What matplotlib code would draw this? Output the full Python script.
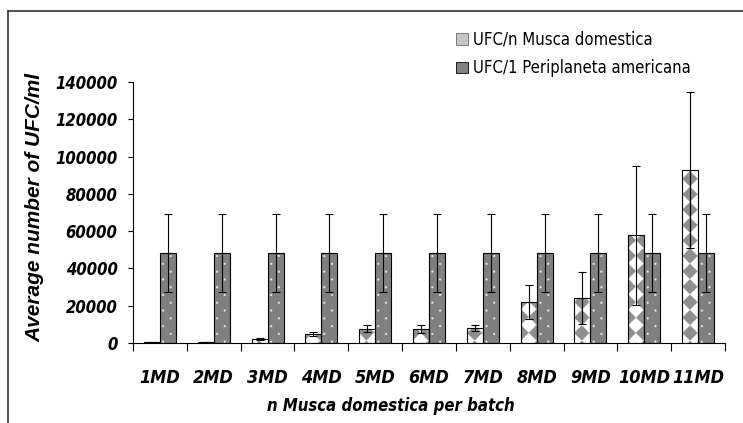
import numpy as np
import matplotlib
matplotlib.use('Agg')
import matplotlib.pyplot as plt
from matplotlib import font_manager
from matplotlib.font_manager import FontProperties
from matplotlib.patches import Patch
from matplotlib.lines import Line2D

# data
categories = ['1MD', '2MD', '3MD', '4MD', '5MD', '6MD', '7MD', '8MD', '9MD', '10MD', '11MD']
musca_mean = [500, 500, 2200, 4700, 7600, 7600, 8000, 22000, 24000, 57700, 92700]
musca_err = [300, 300, 600, 1000, 1800, 2300, 1500, 9000, 14000, 37500, 41700]
peri_mean = [48300, 48300, 48300, 48300, 48300, 48300, 48300, 48300, 48300, 48300, 48300]
peri_err = [21000, 21000, 21000, 21000, 21000, 21000, 21000, 21000, 21000, 21000, 21000]
legend_labels = ['UFC/n Musca domestica', 'UFC/1 Periplaneta americana']
y_ticks = [0, 20000, 40000, 60000, 80000, 100000, 120000, 140000]


# look for a narrow sans face (the reference text is horizontally squeezed)
def narrow_font(bold, italic, size):
    prefs = ['liberationsansnarrow', 'dejavusanscondensed', 'notosans-condensed',
             'notosanscondensed', 'robotocondensed', 'opensanscondensed']
    best = None
    for f in font_manager.fontManager.ttflist:
        fn = f.fname.replace('\\', '/').split('/')[-1].lower().replace('_', '')
        if not ('narrow' in fn or 'condensed' in fn) or 'mono' in fn or 'serif' in fn.replace('sans', ''):
            continue
        if 'semi' in fn or 'extra' in fn:
            continue
        w = f.weight if isinstance(f.weight, int) else (700 if f.weight == 'bold' else 400)
        is_bold = w >= 600
        is_it = f.style in ('italic', 'oblique')
        if is_bold != bold or is_it != italic:
            continue
        rank = next((i for i, p in enumerate(prefs) if fn.startswith(p)), len(prefs))
        if best is None or rank < best[0]:
            best = (rank, f.fname)
    if best is not None:
        return FontProperties(fname=best[1], size=size)
    return FontProperties(family='Liberation Sans', size=size,
                          weight='bold' if bold else 'normal',
                          style='italic' if italic else 'normal')


ytick_font = narrow_font(True, True, 12)
xtick_font = narrow_font(True, True, 13)
xlab_font = narrow_font(True, True, 12)
legend_font = narrow_font(False, False, 12)
ylab_font = FontProperties(family='Liberation Sans', size=15, weight='bold', style='italic')

W, H = 743, 423
ax_l, ax_r, ax_b, ax_t = 133, 725, 343, 82   # pixel box of the axes
ymax = 140000
n = len(categories)
ppx = (ax_r - ax_l) / n          # pixels per category
bar_w = 16 / ppx
period = 15.4                     # pattern period in pixels

fig = plt.figure(figsize=(W / 100, H / 100), dpi=100)
ax = fig.add_axes([ax_l / W, 1 - ax_b / H, (ax_r - ax_l) / W, (ax_b - ax_t) / H])

# fill patterns built on a pixel grid of the axes
sub = 4
nx = int((ax_r - ax_l) * sub)
ny = int((ax_b - ax_t) * sub)
X, Y = np.meshgrid((np.arange(nx) + 0.5) / sub, (np.arange(ny) + 0.5) / sub)

# rotated checkerboard (diamonds) for Musca
xc = (n - 0.5) * ppx - 8
yc = 10
s = (X - xc) / period + (Y - yc) / period
t = (Y - yc) / period - (X - xc) / period
gray = (np.floor(s + 0.5) + np.floor(t + 0.5)) % 2 == 0
musca_img = np.ones((ny, nx, 3))
musca_img[gray] = 0.56


# white dots on gray for Periplaneta
def dots(cx, cy, r=1.1):
    dx = np.mod(X - cx, period)
    dx = np.minimum(dx, period - dx)
    dy = np.mod(Y - cy, period)
    dy = np.minimum(dy, period - dy)
    return dx ** 2 + dy ** 2 < r ** 2


c0 = 0.5 * ppx + 3
mask = dots(c0, 1.3) | dots(c0 + period / 2, 1.3 + period / 2)
peri_img = np.full((ny, nx, 3), 0.5)
peri_img[mask] = 0.93

x = np.arange(n)
ext = (-0.5, n - 0.5, 0, ymax)

mb = ax.bar(x - bar_w / 2, musca_mean, bar_w, facecolor='none', edgecolor='black', lw=0.8, zorder=3)
pb = ax.bar(x + bar_w / 2, peri_mean, bar_w, facecolor='none', edgecolor='black', lw=0.8, zorder=3)
for p in mb:
    im = ax.imshow(musca_img, extent=ext, origin='lower', aspect='auto', zorder=2)
    im.set_clip_path(p)
for p in pb:
    im = ax.imshow(peri_img, extent=ext, origin='lower', aspect='auto', zorder=2)
    im.set_clip_path(p)

ax.errorbar(x - bar_w / 2, musca_mean, yerr=musca_err, fmt='none', ecolor='black',
            elinewidth=0.8, capsize=3.2, capthick=0.8, zorder=4)
ax.errorbar(x + bar_w / 2, peri_mean, yerr=peri_err, fmt='none', ecolor='black',
            elinewidth=0.8, capsize=3.2, capthick=0.8, zorder=4)

ax.set_xlim(-0.5, n - 0.5)
ax.set_ylim(0, ymax)
ax.set_yticks(y_ticks)
ax.set_yticklabels([str(v) for v in y_ticks], fontproperties=ytick_font)
ax.set_xticks(x)
ax.set_xticklabels(categories, fontproperties=xtick_font)
ax.set_xticks(np.arange(n + 1) - 0.5, minor=True)
ax.tick_params(axis='x', which='major', length=0, pad=19)
ax.tick_params(axis='x', which='minor', length=5.5, width=0.8, direction='out')
ax.tick_params(axis='y', length=3.6, width=0.8, pad=7.5)
for side in ['top', 'right']:
    ax.spines[side].set_visible(False)
for side in ['left', 'bottom']:
    ax.spines[side].set_linewidth(0.8)

fig.text(391 / W, 1 - 406 / H, 'n Musca domestica per batch', fontproperties=xlab_font,
         ha='center', va='center')
fig.text(35 / W, 1 - 207 / H, 'Average number of UFC/ml', fontproperties=ylab_font,
         ha='center', va='center', rotation=90)

handles = [Patch(facecolor='#c4c4c4', edgecolor='#666666', lw=0.6),
           Patch(facecolor='#808080', edgecolor='black', lw=0.6)]
fig.legend(handles, legend_labels, loc='upper left', bbox_to_anchor=(456 / W, 1 - 31 / H),
           frameon=False, prop=legend_font, handlelength=0.7,
           handleheight=0.7, handletextpad=0.3, labelspacing=0.62, borderpad=0,
           borderaxespad=0)

# outer frame (top and left edges visible)
fig.add_artist(Line2D([8 / W, 1], [1 - 11 / H, 1 - 11 / H], color='#333333', lw=1.2))
fig.add_artist(Line2D([8 / W, 8 / W], [0, 1 - 11 / H], color='#333333', lw=1.2))

fig.savefig('out.png', dpi=100)
